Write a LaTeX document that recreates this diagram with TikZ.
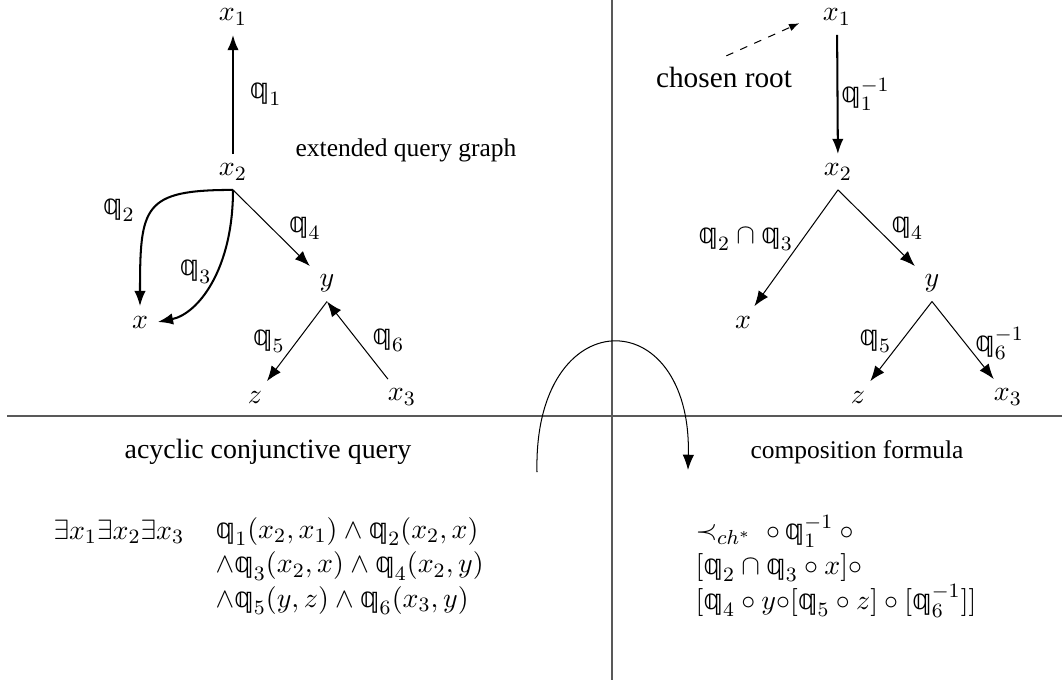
\documentclass[tikz,border=0pt,11pt]{standalone}
\usepackage{amsmath, amssymb}
\usepackage[no-math]{fontspec}
\setmainfont{Liberation Serif}
\newfontfamily\dblfont{DejaVu Sans}
\usetikzlibrary{arrows.meta}
\newcommand{\qrel}[1]{\text{\dblfont 𝕢}_{#1}}

\begin{document}
\begin{tikzpicture}[
  x=0.01379cm, y=-0.01379cm,
  rel/.style={-{Latex[length=6pt, width=4.5pt]}},
  strongrel/.style={rel, thick},
  divider/.style={black!65, semithick},
  heading/.style={font=\fontsize{10}{12}\selectfont},
  formula/.style={align=left, inner sep=0pt},
]
\useasboundingbox (0,0) rectangle (1062,684);

\draw[divider] (7,416) -- (1062,416);
\draw[divider] (612,0) -- (612,680);

\node (lx1) at (233,17) {$x_1$};
\node (lx2) at (233,172) {$x_2$};
\node (lx) at (140,322) {$x$};
\node (ly) at (327,283) {$y$};
\node (lz) at (255,397) {$z$};
\node (lx3) at (402,397) {$x_3$};
\node[heading] (ext) at (406,150) {extended query graph};

\draw[strongrel] (lx2) -- node[midway, right, xshift=2.5pt] {$\qrel{1}$} (lx1);
\draw[strongrel] (lx2.south) .. controls +(-90,0) and +(0,-100) .. node[pos=0.5, left, xshift=-3pt] {$\qrel{2}$} (lx.north);
\draw[strongrel] (lx2.south) .. controls +(0,80) and +(40,-8) .. node[pos=0.42, left, xshift=2pt] {$\qrel{3}$} (lx.east);
\draw[rel] (lx2.south) -- node[midway, right, xshift=3pt] {$\qrel{4}$} (ly);
\draw[rel] (ly.south) -- node[midway, left, xshift=-1pt] {$\qrel{5}$} (lz);
\draw[rel] (lx3) -- node[midway, right, xshift=2pt] {$\qrel{6}$} (ly.south);

\node (rx1) at (837,17) {$x_1$};
\node (rx2) at (838,172) {$x_2$};
\node (rx) at (743,322) {$x$};
\node (ry) at (932,283) {$y$};
\node (rz) at (858,397) {$z$};
\node (rx3) at (1008,397) {$x_3$};
\node[heading, font=\fontsize{11.5}{13}\selectfont] (root) at (724,77) {chosen root};

\draw[dashed, -{Latex[length=4pt, width=3pt]}, shorten >=6pt, shorten <=1pt] (root.north) -- (rx1.west);
\draw[strongrel] (rx1) -- node[midway, right, inner sep=1pt] {$\qrel{1}^{-1}$} (rx2);
\draw[rel] (rx2.south) -- node[pos=0.42, left] {$\qrel{2}\cap\qrel{3}$} (rx);
\draw[rel] (rx2.south) -- node[midway, right, xshift=2pt] {$\qrel{4}$} (ry);
\draw[rel] (ry.south) -- node[midway, left] {$\qrel{5}$} (rz);
\draw[rel] (ry.south) -- node[pos=0.54, right] {$\qrel{6}^{-1}$} (rx3);

\coordinate (from) at (537,472);
\coordinate (into) at (688,470);
\draw[rel] (from) .. controls (533,300) and (692,300) .. (into);

\node[heading, font=\normalsize] (acq) at (268,452) {acyclic conjunctive query};
\node[heading] (comp) at (857,452) {composition formula};

\node[formula, anchor=west] (quant) at (53,532) {$\exists x_1\exists x_2\exists x_3$};
\node[formula, anchor=west] (conj) at (215,566) {%
  $\qrel{1}(x_2,x_1)\wedge\qrel{2}(x_2,x)$\\
  $\wedge\qrel{3}(x_2,x)\wedge\qrel{4}(x_2,y)$\\
  $\wedge\qrel{5}(y,z)\wedge\qrel{6}(x_3,y)$};
\node[formula, anchor=west] (compf) at (695,566) {%
  $\prec_{ch^*}\ \circ\,\qrel{1}^{-1}\circ{}$\\
  $[\qrel{2}\cap\qrel{3}\circ x]\circ$\\
  $[\qrel{4}\circ y{\circ}[\qrel{5}\circ z]\circ[\qrel{6}^{-1}]]$};

\end{tikzpicture}
\end{document}
